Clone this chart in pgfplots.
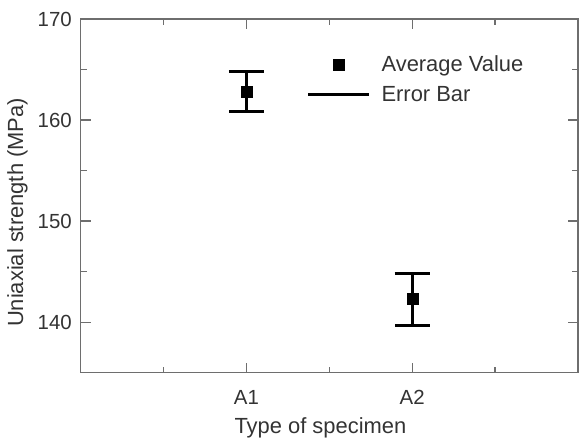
\documentclass[border=0pt]{standalone}
\usepackage{fontspec}
\setmainfont{Liberation Sans}
\usepackage{pgfplots}
\pgfplotsset{compat=1.18}
\usepackage{pgfplotstable}
\definecolor{axgray}{HTML}{6E6E6E}
\definecolor{txt}{HTML}{333333}
\pgfplotstableread{
x y ep em
2 162.85 1.95 2.00
4 142.30 2.50 2.65
}\datatable
\pgfplotsset{
  avglegend/.style={legend image code/.code={\draw[only marks, mark=square*, mark size=5.5bp, black] plot coordinates {(30.5bp,0bp)};}},
  errlegend/.style={legend image code/.code={\draw[black, line width=2.4bp] (0bp,0bp) -- (61bp,0bp);}},
}
\begin{document}
\begin{tikzpicture}
\path[use as bounding box] (0,0) rectangle (583bp,438bp);
\begin{axis}[
  at={(80.7bp,65.3bp)}, anchor=south west,
  scale only axis, width=497.3bp, height=353.7bp,
  xmin=0, xmax=6, ymin=135, ymax=170,
  xtick={2,4}, xticklabels={A1,A2}, minor xtick={1,3,5},
  ytick={140,150,160,170}, minor ytick={145,155,165},
  tick align=inside, major tick length=10bp, minor tick length=6bp,
  axis line style={axgray, line width=1.3bp},
  tick style={axgray, line width=1.3bp},
  /pgf/number format/assume math mode=true,
  ticklabel style={font=\fontsize{20.5}{24}\selectfont, text=txt},
  xticklabel style={anchor=base, inner sep=0pt, yshift=-32bp},
  yticklabel style={anchor=east, inner sep=0pt, xshift=-8.7bp},
  label style={font=\fontsize{22}{26}\selectfont, text=txt},
  xlabel={Type of specimen},
  xlabel style={at={(axis description cs:0.482,0)}, anchor=base, inner sep=0pt, yshift=-60.5bp},
  ylabel={Uniaxial strength (MPa)},
  ylabel style={at={(axis description cs:0,0.453)}, anchor=base, inner sep=0pt, yshift=57.5bp},
  legend style={draw=none, fill=none, at={(rel axis cs:0.455,0.902)}, anchor=north west,
    inner sep=0pt, row sep=9bp, font=\fontsize{22}{26}\selectfont, text=txt,
    /tikz/every odd column/.append style={column sep=9bp}},
  legend cell align=left,
]
\addplot[black, only marks, mark=square*, mark size=5.5bp, mark options={fill=black}, avglegend,
  error bars/.cd, y dir=both, y explicit,
  error bar style={black, line width=2.6bp},
  error mark options={black, rotate=90, line width=2.6bp, mark size=17.5bp}]
  table[x=x, y=y, y error plus=ep, y error minus=em]{\datatable};
\addlegendentry{Average Value}
\addlegendimage{errlegend}
\addlegendentry{Error Bar}
\end{axis}
\end{tikzpicture}
\end{document}
